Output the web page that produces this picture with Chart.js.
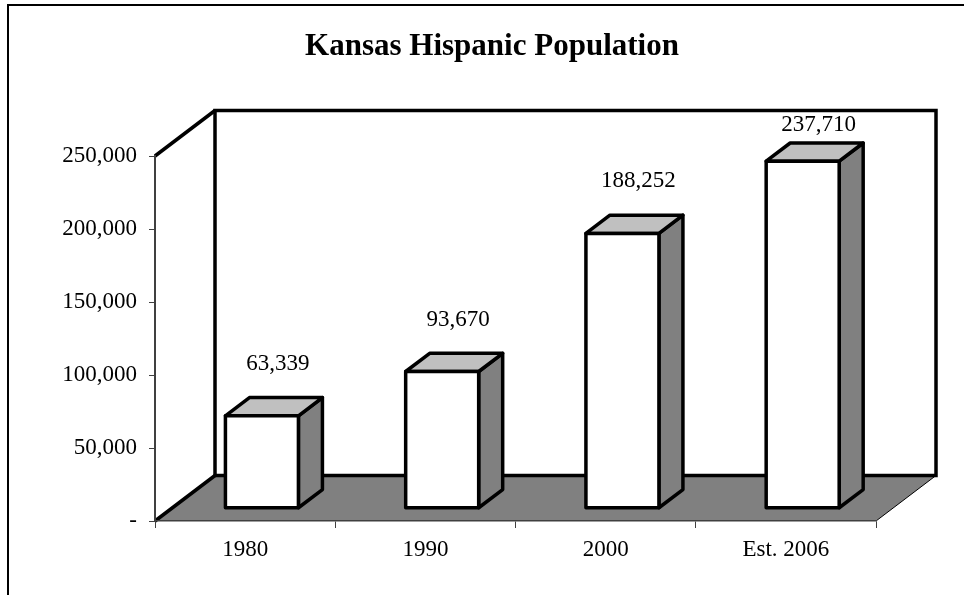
<!DOCTYPE html>
<html>
<head>
<meta charset="utf-8">
<title>Kansas Hispanic Population</title>
<script src="https://cdn.jsdelivr.net/npm/chart.js@4.4.0/dist/chart.umd.min.js"></script>
<style>
  html, body { margin: 0; padding: 0; background: #fff; }
  canvas { display: block; }
</style>
</head>
<body>
<canvas id="popChart" width="964" height="595"></canvas>
<script>
// Kansas Hispanic population by census year
const years = ['1980', '1990', '2000', 'Est. 2006'];
const population = [63339, 93670, 188252, 237710];
const yTicks = [0, 50000, 100000, 150000, 200000, 250000];
const chartTitle = 'Kansas Hispanic Population';

// depth of the 3-D box (offset of the back wall from the front plane)
const DEPTH_X = 60, DEPTH_Y = -45.5;
// bars sit between these fractions of the depth
const BAR_FRONT = 0.28, BAR_BACK = 0.68;
const SERIF = '"Liberation Serif", "Times New Roman", serif';

function fmt(v) {
    return v === 0 ? '-' : v.toLocaleString('en-US');
}

function poly(ctx, pts, fill) {
    ctx.beginPath();
    ctx.moveTo(pts[0][0], pts[0][1]);
    for (let i = 1; i < pts.length; i++) ctx.lineTo(pts[i][0], pts[i][1]);
    ctx.closePath();
    ctx.fillStyle = fill;
    ctx.fill();
    ctx.stroke();
}

const box3d = {
    id: 'box3d',
    beforeDraw(chart) {
        const { ctx, chartArea: a } = chart;
        const L = a.left, R = a.right, T = a.top, B = a.bottom;
        ctx.save();

        // outer frame
        ctx.strokeStyle = '#000';
        ctx.lineWidth = 2;
        ctx.beginPath();
        ctx.moveTo(8, chart.height + 5);
        ctx.lineTo(8, 5);
        ctx.lineTo(chart.width + 5, 5);
        ctx.stroke();

        // title
        ctx.fillStyle = '#000';
        ctx.font = 'bold 31px ' + SERIF;
        ctx.textAlign = 'center';
        ctx.textBaseline = 'middle';
        ctx.fillText(chartTitle, 492, 47);

        // floor
        ctx.fillStyle = '#808080';
        ctx.beginPath();
        ctx.moveTo(L, B);
        ctx.lineTo(R, B);
        ctx.lineTo(R + DEPTH_X, B + DEPTH_Y);
        ctx.lineTo(L + DEPTH_X, B + DEPTH_Y);
        ctx.closePath();
        ctx.fill();
        ctx.lineWidth = 1;
        ctx.beginPath();
        ctx.moveTo(R, B);
        ctx.lineTo(R + DEPTH_X, B + DEPTH_Y);
        ctx.stroke();

        // back wall and left wall edges
        ctx.lineWidth = 3.5;
        ctx.strokeRect(L + DEPTH_X, T + DEPTH_Y, R - L, B - T);
        ctx.beginPath();
        ctx.moveTo(L, T);
        ctx.lineTo(L + DEPTH_X, T + DEPTH_Y);
        ctx.moveTo(L, B);
        ctx.lineTo(L + DEPTH_X, B + DEPTH_Y);
        ctx.stroke();
        ctx.restore();
    },
    afterDatasetsDraw(chart) {
        const { ctx, chartArea: a } = chart;
        const meta = chart.getDatasetMeta(0);
        const fx = BAR_FRONT * DEPTH_X, fy = BAR_FRONT * DEPTH_Y;
        const kx = (BAR_BACK - BAR_FRONT) * DEPTH_X, ky = (BAR_BACK - BAR_FRONT) * DEPTH_Y;
        ctx.save();
        ctx.strokeStyle = '#000';
        ctx.lineWidth = 3.5;
        ctx.lineJoin = 'round';
        meta.data.forEach((bar, i) => {
            const half = bar.width / 2;
            const x0 = bar.x - half + fx, x1 = bar.x + half + fx;
            const y0 = bar.y + fy, y1 = bar.base + fy;
            poly(ctx, [[x1, y0], [x1 + kx, y0 + ky], [x1 + kx, y1 + ky], [x1, y1]], '#808080');
            poly(ctx, [[x0, y0], [x0 + kx, y0 + ky], [x1 + kx, y0 + ky], [x1, y0]], '#c0c0c0');
            poly(ctx, [[x0, y0], [x1, y0], [x1, y1], [x0, y1]], '#ffffff');

            // value label above the bar
            ctx.fillStyle = '#000';
            ctx.font = '23px ' + SERIF;
            ctx.textAlign = 'center';
            ctx.textBaseline = 'middle';
            ctx.fillText(fmt(population[i]), bar.x + fx + 16, Math.max(y0 - 52, a.top - 31));
        });
        ctx.restore();
    }
};

new Chart(document.getElementById('popChart'), {
    type: 'bar',
    data: {
        labels: years,
        datasets: [{
            data: population,
            backgroundColor: 'rgba(0,0,0,0)',
            borderWidth: 0,
            categoryPercentage: 1,
            barPercentage: 0.405
        }]
    },
    options: {
        responsive: false,
        animation: false,
        layout: { padding: { top: 156, right: 88, left: 0, bottom: 0 } },
        plugins: {
            legend: { display: false },
            tooltip: { enabled: false },
            title: { display: false }
        },
        scales: {
            x: {
                afterFit(scale) { scale.height = 74; },
                grid: { drawOnChartArea: false, tickLength: 7, color: '#404040', offset: true },
                border: { color: '#404040', width: 1.5 },
                ticks: { color: '#000', font: { family: SERIF, size: 23 }, padding: 8 }
            },
            y: {
                min: 0,
                max: 250000,
                afterFit(scale) { scale.width = 155; },
                afterBuildTicks(scale) { scale.ticks = yTicks.map(v => ({ value: v })); },
                grid: { drawOnChartArea: false, tickLength: 6, color: '#404040' },
                border: { color: '#404040', width: 2 },
                ticks: {
                    color: '#000',
                    font: { family: SERIF, size: 23 },
                    padding: 12,
                    callback: function(value) { return fmt(value); }
                }
            }
        }
    },
    plugins: [box3d]
});
</script>
</body>
</html>
